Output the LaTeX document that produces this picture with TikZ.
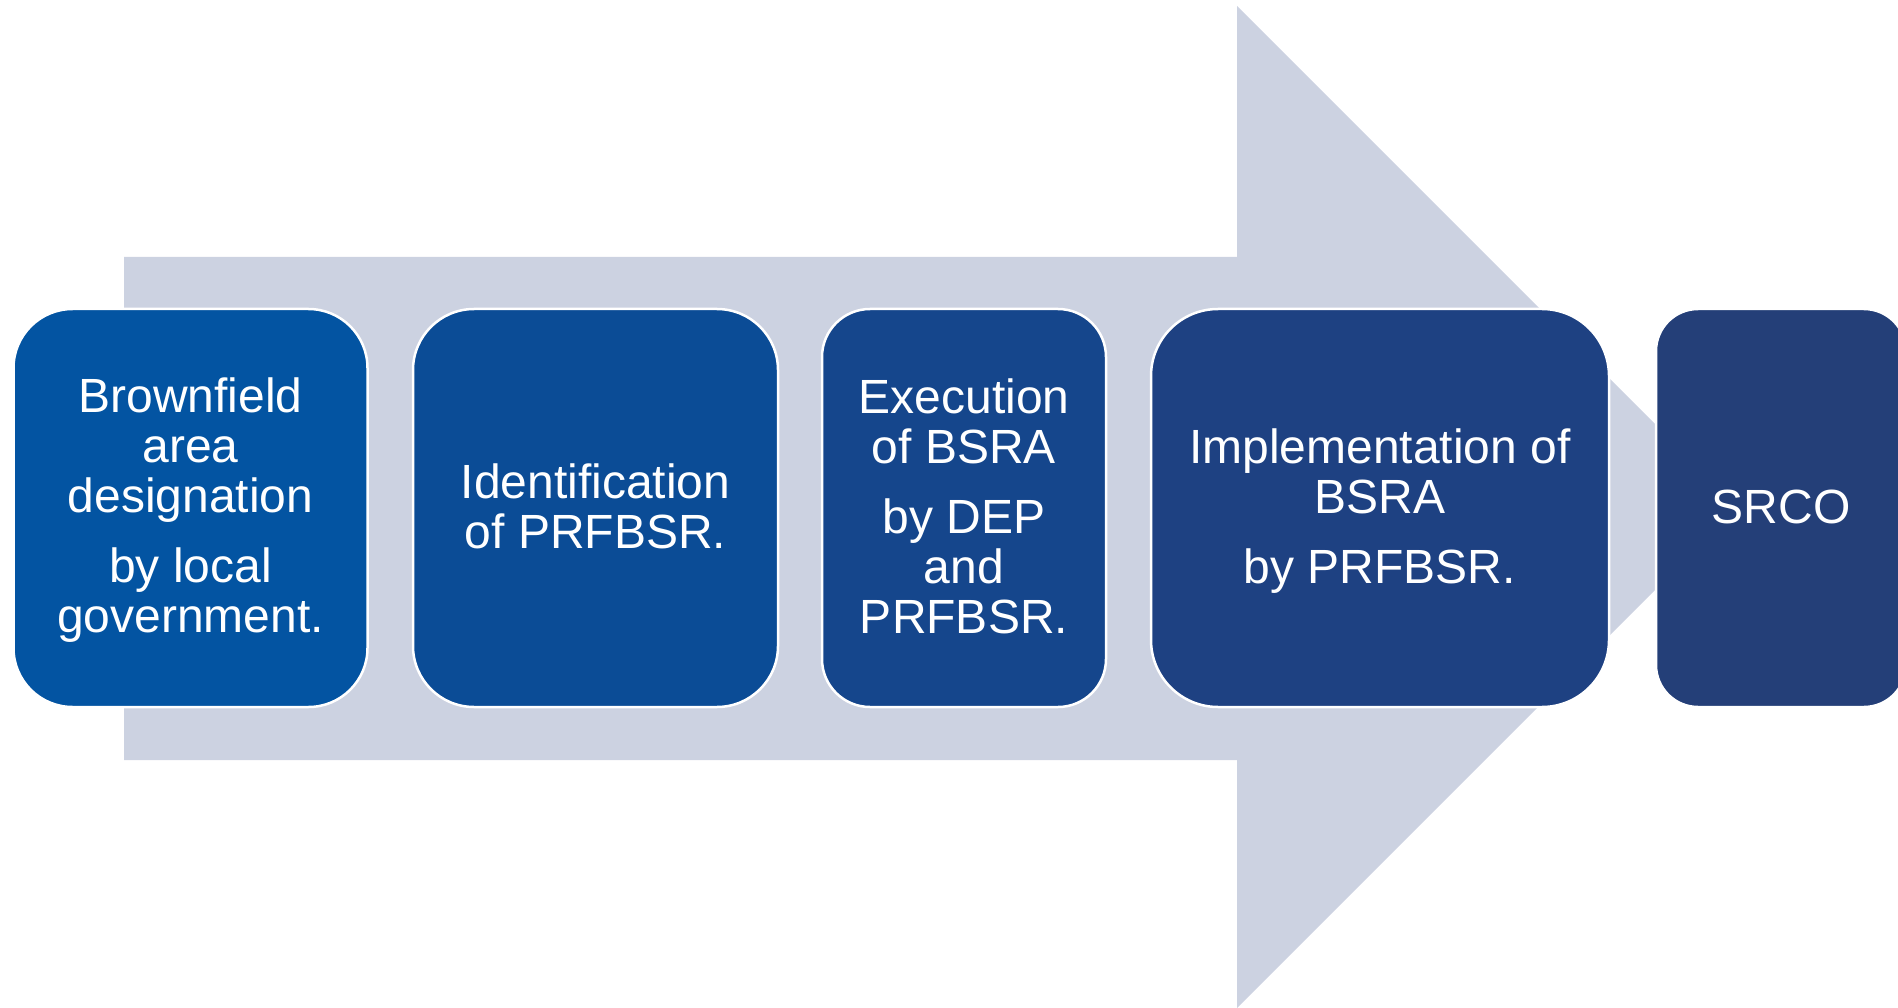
\documentclass[tikz,border=0pt]{standalone}
\usepackage{fontspec}
\setmainfont{Liberation Sans}
\definecolor{arrowfill}{RGB}{204,210,225}
\definecolor{cA}{RGB}{3,84,162}
\definecolor{cB}{RGB}{11,76,150}
\definecolor{cC}{RGB}{21,70,140}
\definecolor{cD}{RGB}{30,65,130}
\definecolor{cE}{RGB}{36,63,120}
\begin{document}
\begin{tikzpicture}[x=1pt,y=-1pt,
  stepbox/.style={draw=white,line width=2.5pt,inner sep=0pt,outer sep=0pt},
  steptext/.style={text=white,align=center,anchor=base,inner sep=0pt,
    font=\fontsize{48}{50}\selectfont}]
\useasboundingbox (0,0) rectangle (1898,1008);
% big background arrow
\fill[arrowfill] (124,257) -- (1237,257) -- (1237,6) -- (1738,507)
  -- (1237,1008) -- (1237,760) -- (124,760) -- cycle;
% boxes
\node[stepbox,fill=cA,rounded corners=59pt,minimum width=354pt,minimum height=398pt] (b1) at (190.5,508) {};
\node[stepbox,fill=cB,rounded corners=61pt,minimum width=365pt,minimum height=398pt] (b2) at (595.5,508) {};
\node[stepbox,fill=cC,rounded corners=48pt,minimum width=284pt,minimum height=398pt] (b3) at (964,508) {};
\node[stepbox,fill=cD,rounded corners=67pt,minimum width=458pt,minimum height=398pt] (b4) at (1380,508) {};
\node[stepbox,fill=cE,rounded corners=42pt,minimum width=250pt,minimum height=398pt] (b5) at (1781,508) {};
% texts (base anchor = baseline of last line)
\node[steptext] (t1) at (190.5,632) {Brownfield\\area\\designation\\[20pt]by local\\government.};
\node[steptext] (t2) at (595.5,548) {Identification\\of PRFBSR.};
\node[steptext] (t3) at (964,633) {Execution\\of BSRA\\[20pt]by DEP\\and\\PRFBSR.};
\node[steptext] (t4) at (1380,583) {Implementation of\\BSRA\\[20pt]by PRFBSR.};
\node[steptext] (t5) at (1781,523) {SRCO};
\end{tikzpicture}
\end{document}
